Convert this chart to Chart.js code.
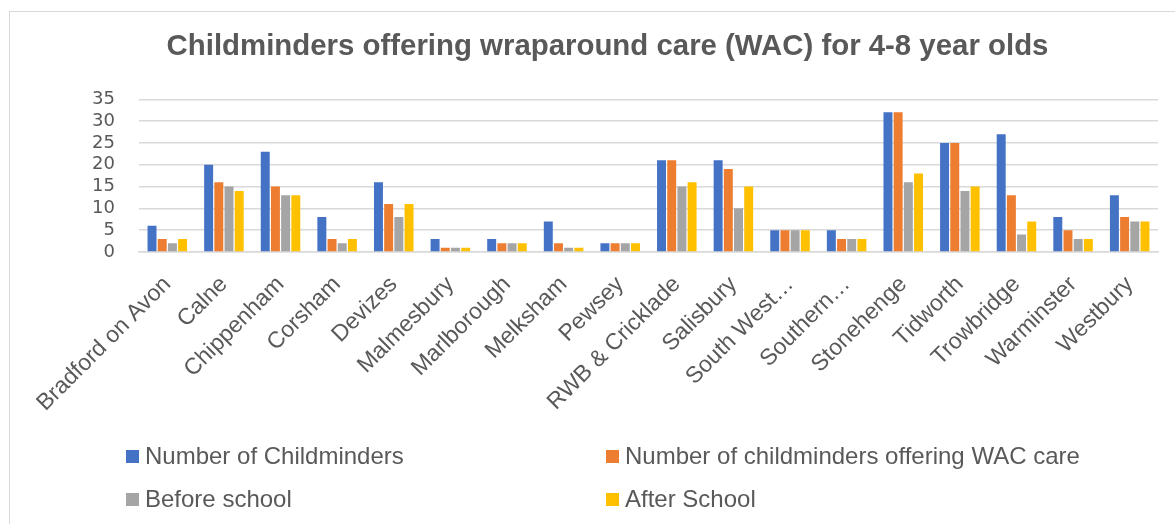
<!DOCTYPE html>
<html>
<head>
<meta charset="utf-8">
<script src="https://cdn.jsdelivr.net/npm/chart.js@4"></script>
<style>
  html, body { margin: 0; padding: 0; background: #fff; overflow: hidden; }
  body { width: 1175px; height: 524px; position: relative; overflow: hidden; }
  #frame { position: absolute; left: 9px; top: 11px; width: 1166px; height: 513px;
           border-top: 1px solid #d9d9d9; border-left: 1px solid #d9d9d9; box-sizing: border-box; }
  #wrap { position: absolute; left: 0; top: 0; width: 1175px; height: 420px; }
  #legend { position: absolute; left: 0; top: 0; width: 1175px; height: 524px; pointer-events: none;
            font-family: "Liberation Sans", Arial, sans-serif; font-size: 24px; color: #595959; }
  .item { position: absolute; white-space: nowrap; line-height: 24px; }
  .box { position: absolute; width: 13px; height: 13px; }
</style>
</head>
<body>
<div id="frame"></div>
<div id="wrap"><canvas id="c" width="1175" height="420"></canvas></div>
<div id="legend"></div>
<script>
const categories = ["Bradford on Avon","Calne","Chippenham","Corsham","Devizes","Malmesbury","Marlborough","Melksham","Pewsey","RWB & Cricklade","Salisbury","South West\u2026","Southern\u2026","Stonehenge","Tidworth","Trowbridge","Warminster","Westbury"];
const numberOfChildminders = [6,20,23,8,16,3,3,7,2,21,21,5,5,32,25,27,8,13];
const offeringWAC = [3,16,15,3,11,1,2,2,2,21,19,5,3,32,25,13,5,8];
const beforeSchool = [2,15,13,2,8,1,2,1,2,15,10,5,3,16,14,4,3,7];
const afterSchool = [3,14,13,3,11,1,2,1,2,16,15,5,3,18,15,7,3,7];
const seriesNames = ["Number of Childminders","Number of childminders offering WAC care","Before school","After School"];
const yTicks = [0,5,10,15,20,25,30,35];
const titleText = "Childminders offering wraparound care (WAC) for 4-8 year olds";

const colors = ["#4472C4","#ED7D31","#A5A5A5","#FFC000"];
const seriesData = [numberOfChildminders, offeringWAC, beforeSchool, afterSchool];

const chart = new Chart(document.getElementById('c'), {
  type: 'bar',
  data: {
    labels: categories,
    datasets: seriesData.map((d, i) => ({
      label: seriesNames[i],
      data: d,
      backgroundColor: colors[i],
      borderWidth: 0,
      barPercentage: 0.88,
      categoryPercentage: 0.72
    }))
  },
  options: {
    responsive: false,
    animation: false,
    devicePixelRatio: 1,
    layout: { padding: { left: 57, right: 17, top: 20, bottom: 8 } },
    plugins: {
      legend: { display: false },
      tooltip: { enabled: false },
      title: {
        display: true,
        text: titleText,
        color: '#595959',
        font: { family: '"Liberation Sans", Arial, sans-serif', size: 29.4, weight: 'bold' },
        padding: { top: 9, bottom: 35 }
      }
    },
    scales: {
      y: {
        min: 0, max: 35,
        afterBuildTicks: s => { s.ticks = yTicks.map(v => ({ value: v })); },
        afterFit: s => { s.width = 82; },
        ticks: {
          color: '#595959',
          font: { family: '"DejaVu Sans", sans-serif', size: 18 },
          padding: 24,
          autoSkip: false
        },
        grid: { color: '#d9d9d9', lineWidth: 1.5, drawTicks: false },
        border: { display: false }
      },
      x: {
        afterFit: s => { s.height = 160; },
        ticks: {
          color: '#595959',
          font: { family: '"Liberation Sans", Arial, sans-serif', size: 23 },
          minRotation: 45, maxRotation: 45,
          autoSkip: false,
          padding: 19
        },
        grid: { display: false, drawTicks: false },
        border: { display: true, color: '#d9d9d9', width: 1.5 }
      }
    }
  }
});

// HTML legend from the chart's own legend items
const legendEl = document.getElementById('legend');
const items = chart.options.plugins.legend.labels.generateLabels(chart);
const pos = [[126, 450], [606, 450], [126, 493], [606, 493]];
items.forEach((it, i) => {
  const [x, y] = pos[i];
  const b = document.createElement('div');
  b.className = 'box';
  b.style.left = x + 'px'; b.style.top = y + 'px';
  b.style.background = it.fillStyle;
  legendEl.appendChild(b);
  const t = document.createElement('div');
  t.className = 'item';
  t.style.left = (x + 19) + 'px'; t.style.top = (y - 6) + 'px';
  t.textContent = it.text;
  legendEl.appendChild(t);
});
</script>
</body>
</html>
